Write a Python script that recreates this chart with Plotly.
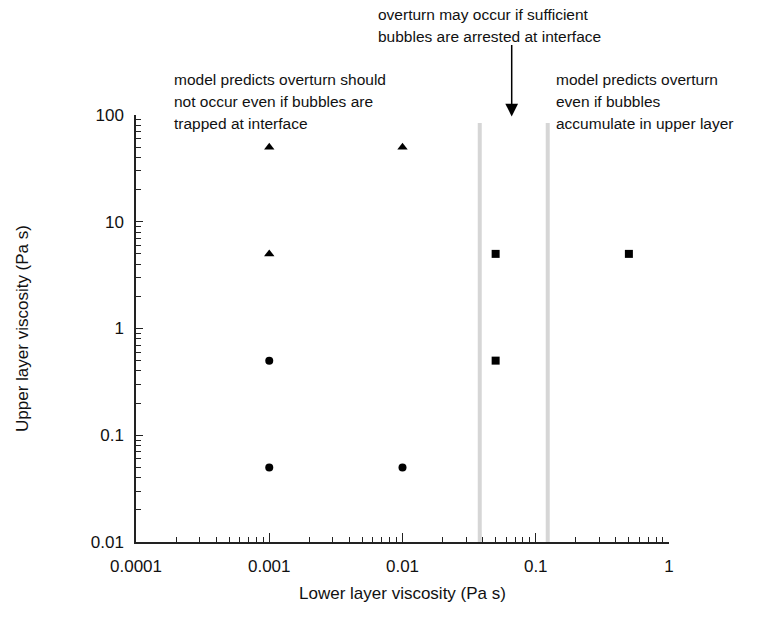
import numpy as np
import plotly.graph_objects as go

# Data
tri_x = [0.001, 0.01, 0.001]
tri_y = [50, 50, 5]
circ_x = [0.001, 0.001, 0.01]
circ_y = [0.5, 0.05, 0.05]
sq_x = [0.05, 0.05, 0.5]
sq_y = [5, 0.5, 5]
boundary_x = [0.038, 0.123]
boundary_top = 84
arrow_x = 0.066
arrow_tip_y = 97

x_ticks = [0.0001, 0.001, 0.01, 0.1, 1]
x_labels = ["0.0001", "0.001", "0.01", "0.1", "1"]
y_ticks = [0.01, 0.1, 1, 10, 100]
y_labels = ["0.01", "0.1", "1", "10", "100"]

left_text = ["model predicts overturn should", "not occur even if bubbles are", "trapped at interface"]
mid_text = ["overturn may occur if sufficient", "bubbles are arrested at interface"]
right_text = ["model predicts overturn", "even if bubbles", "accumulate in upper layer"]

FONT = "Liberation Sans, Arial, sans-serif"

fig = go.Figure()

for bx in boundary_x:
    fig.add_trace(go.Scatter(x=[bx, bx], y=[0.01, boundary_top], mode="lines",
                             line=dict(color="#d6d6d6", width=4), showlegend=False, hoverinfo="skip"))

fig.add_trace(go.Scatter(x=tri_x, y=tri_y, mode="markers",
                         marker=dict(symbol="triangle-up", size=9, color="black"), showlegend=False))
fig.add_trace(go.Scatter(x=circ_x, y=circ_y, mode="markers",
                         marker=dict(symbol="circle", size=8, color="black"), showlegend=False))
fig.add_trace(go.Scatter(x=sq_x, y=sq_y, mode="markers",
                         marker=dict(symbol="square", size=8, color="black"), showlegend=False))

W, H = 765, 618
# plot area in page pixels (body margin removed via post_script)
PX0, PX1, PY0, PY1 = 136, 669, 115, 542
ml = PX0
mt = PY0
mr = W - ml - (PX1 - PX0)
mb = H - mt - (PY1 - PY0)

def px_to_paper(px, py):
    return (px - PX0) / (PX1 - PX0), (PY1 - py) / (PY1 - PY0)

def add_lines(lines, x0, y0, dy=21.5):
    for i, t in enumerate(lines):
        xp, yp = px_to_paper(x0, y0 + i * dy)
        fig.add_annotation(text=t, x=xp, y=yp, xref="paper", yref="paper",
                           xanchor="left", yanchor="middle", showarrow=False,
                           font=dict(family=FONT, size=15.5, color="#111"))

add_lines(left_text, 172, 80)
add_lines(mid_text, 376, 15)
add_lines(right_text, 554, 80)

# Arrow
fig.add_annotation(x=np.log10(arrow_x), y=np.log10(arrow_tip_y), xref="x", yref="y",
                   text="", showarrow=True, ax=0, ay=-73, axref="pixel", ayref="pixel",
                   arrowhead=2, arrowsize=1.7, arrowwidth=1.5, arrowcolor="black")

fig.update_xaxes(type="log", range=[-4, 0], tickvals=x_ticks, ticktext=x_labels,
                 ticks="inside", ticklen=9, tickwidth=1, tickcolor="#222",
                 showline=True, linecolor="#222", linewidth=1.5, showgrid=False, zeroline=False,
                 minor=dict(ticks="inside", ticklen=5, tickcolor="#222", dtick="D1", showgrid=False),
                 tickfont=dict(family=FONT, size=17, color="#111"), ticklabelstandoff=8,
                 title=dict(text="Lower layer viscosity (Pa s)", font=dict(family=FONT, size=17, color="#111"), standoff=12))
fig.update_yaxes(type="log", range=[-2, 2], tickvals=y_ticks, ticktext=y_labels,
                 ticks="inside", ticklen=7, tickwidth=1, tickcolor="#222",
                 showline=True, linecolor="#222", linewidth=1.5, showgrid=False, zeroline=False,
                 minor=dict(ticks="inside", ticklen=5, tickcolor="#222", dtick="D1", showgrid=False),
                 tickfont=dict(family=FONT, size=17, color="#111"), ticklabelstandoff=7,
                 title=dict(text="Upper layer viscosity (Pa s)", font=dict(family=FONT, size=17, color="#111"), standoff=58))

fig.update_layout(width=W, height=H, margin=dict(l=ml, r=mr, t=mt, b=mb, autoexpand=False),
                  plot_bgcolor="white", paper_bgcolor="white")

fig.write_html("out.html", config={"displayModeBar": False},
               post_script="document.body.style.margin='0px';")
